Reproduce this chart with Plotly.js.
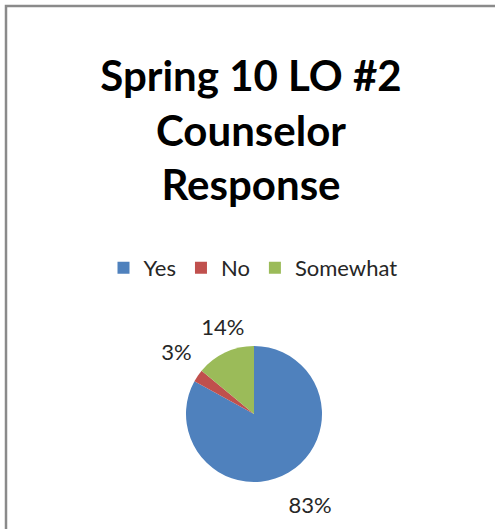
<!DOCTYPE html>
<html>
<head>
<meta charset="utf-8">
<script src="https://cdn.plot.ly/plotly-3.0.1.min.js"></script>
<style>
html,body{margin:0;padding:0;background:#fff;}
#chart{width:495px;height:529px;}
#chart path.textline{display:none;}
</style>
</head>
<body>
<div id="chart"></div>
<script>
const categories = ['Yes', 'No', 'Somewhat'];
const values = [83, 3, 14];
const colors = ['#4F81BD', '#C0504D', '#9BBB59'];
const titleText = 'Spring 10 LO #2<br>Counselor<br>Response';

const W = 495, H = 529;
const cx = 254 / W, cy = 1 - 414 / H;
const R = 68;        // pie radius in px
const clear = ['rgba(0,0,0,0)', 'rgba(0,0,0,0)', 'rgba(0,0,0,0)'];

function dom(r) {
  return {x: [cx - r / W, cx + r / W], y: [cy - r / H, cy + r / H]};
}

// transparent copy of the pie that only carries outside percentage labels
function labelCarrier(r, rot, positions) {
  return {
    type: 'pie',
    labels: categories,
    values: values,
    marker: {colors: clear, line: {width: 0}},
    sort: false,
    direction: 'clockwise',
    rotation: rot,
    texttemplate: '%{value}%',
    textposition: positions,
    outsidetextfont: {family: 'Lato, sans-serif', size: 22, color: '#262626'},
    hoverinfo: 'none',
    showlegend: false,
    domain: dom(r),
    automargin: false
  };
}

const data = [{
  type: 'pie',
  labels: categories,
  values: values,
  marker: {colors: colors, line: {width: 0}},
  sort: false,
  direction: 'clockwise',
  rotation: 0,
  textinfo: 'none',
  hoverinfo: 'none',
  domain: dom(R),
  automargin: false
},
  labelCarrier(R + 15, 11, ['outside', 'none', 'none']),
  labelCarrier(R + 11, 11, ['none', 'outside', 'none']),
  labelCarrier(R + 6, 23, ['none', 'none', 'outside'])
];

const layout = {
  width: W, height: H,
  margin: {l: 0, r: 0, t: 0, b: 0},
  paper_bgcolor: '#fff',
  font: {family: 'Lato, sans-serif', color: '#000'},
  title: {
    text: titleText,
    font: {family: 'Lato, sans-serif', size: 42, weight: 'bold', color: '#000'},
    x: 251 / W, xanchor: 'center',
    y: 1 - 91 / H, yanchor: 'top',
    xref: 'paper', yref: 'container'
  },
  showlegend: true,
  legend: {
    orientation: 'h',
    x: 253 / W, xanchor: 'center',
    y: 1 - 268 / H, yanchor: 'middle',
    font: {family: 'Lato, sans-serif', size: 22, color: '#262626'},
    traceorder: 'normal'
  },
  shapes: [{
    type: 'rect', xref: 'paper', yref: 'paper',
    x0: 6 / W, x1: 1.05, y0: -0.05, y1: 1 - 6 / H,
    line: {color: '#8a8a8a', width: 2.5}, fillcolor: 'rgba(0,0,0,0)'
  }]
};

Plotly.newPlot('chart', data, layout, {displayModeBar: false, staticPlot: true});
</script>
</body>
</html>
